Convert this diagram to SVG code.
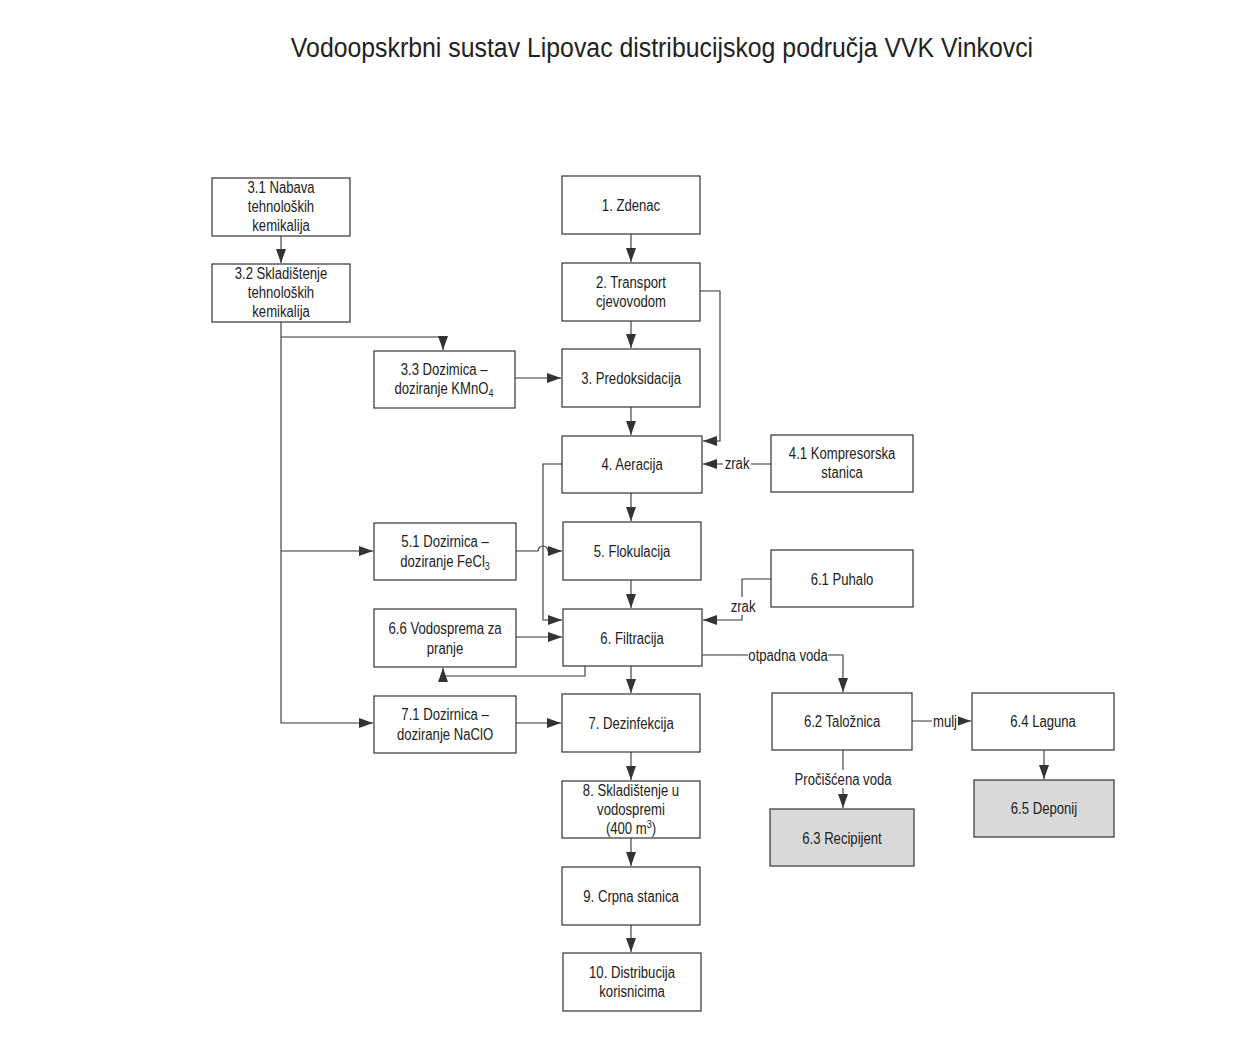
<svg xmlns="http://www.w3.org/2000/svg" width="1233" height="1045" viewBox="0 0 1233 1045">
<style>
.b{fill:#fff;stroke:#333;stroke-width:1.2}
.g{fill:#d9d9d9;stroke:#333;stroke-width:1.2}
text{font-family:"Liberation Sans",Arial,sans-serif;font-size:16px;fill:#222;text-anchor:middle;transform-box:fill-box;transform-origin:center;transform:scaleX(0.82)}
.t{font-size:27px;transform:scaleX(0.92)}
.c{fill:none;stroke:#333;stroke-width:1.1}
.lbl{fill:#fff;stroke:none}
</style>
<defs>
<marker id="a" viewBox="0 0 14 10" refX="14" refY="5" markerWidth="14" markerHeight="10" markerUnits="userSpaceOnUse" orient="auto">
<path d="M0,0 L14,5 L0,10 z" fill="#333"/>
</marker>
</defs>
<rect width="1233" height="1045" fill="#fff"/>
<text class="t" x="662" y="57">Vodoopskrbni sustav Lipovac distribucijskog područja VVK Vinkovci</text>

<g id="connectors">
<path class="c" d="M281,236 V263" marker-end="url(#a)"/>
<path class="c" d="M281,322 V723 H373" marker-end="url(#a)"/>
<path class="c" d="M281,337 H443 V350" marker-end="url(#a)"/>
<path class="c" d="M281,551 H373" marker-end="url(#a)"/>
<path class="c" d="M515,378 H561" marker-end="url(#a)"/>
<path class="c" d="M631,234 V262" marker-end="url(#a)"/>
<path class="c" d="M631,321 V348" marker-end="url(#a)"/>
<path class="c" d="M700,291 H720 V441 H703" marker-end="url(#a)"/>
<path class="c" d="M631,407 V435" marker-end="url(#a)"/>
<path class="c" d="M771,464 H703" marker-end="url(#a)"/>
<rect class="lbl" x="723" y="455" width="28" height="16"/>
<text x="737" y="469">zrak</text>
<path class="c" d="M562,464 H543 V620 H562" marker-end="url(#a)"/>
<path class="c" d="M516,551 H538 A5,5 0 0 1 548,551 H562" marker-end="url(#a)"/>
<path class="c" d="M631,493 V521" marker-end="url(#a)"/>
<path class="c" d="M631,580 V608" marker-end="url(#a)"/>
<path class="c" d="M771,579 H742 V620 H703" marker-end="url(#a)"/>
<rect class="lbl" x="729" y="597" width="28" height="18"/>
<text x="743" y="612">zrak</text>
<path class="c" d="M702,655 H843 V692" marker-end="url(#a)"/>
<rect class="lbl" x="748" y="646" width="80" height="18"/>
<text x="788" y="661">otpadna voda</text>
<path class="c" d="M516,637 H562" marker-end="url(#a)"/>
<path class="c" d="M585,666 V676 H443 V668" marker-end="url(#a)"/>
<path class="c" d="M631,666 V693" marker-end="url(#a)"/>
<path class="c" d="M516,723 H561" marker-end="url(#a)"/>
<path class="c" d="M912,721 H971" marker-end="url(#a)"/>
<rect class="lbl" x="932" y="712" width="26" height="18"/>
<text x="945" y="727">mulj</text>
<path class="c" d="M843,750 V808" marker-end="url(#a)"/>
<rect class="lbl" x="794" y="770" width="98" height="18"/>
<text x="843" y="785">Pročišćena voda</text>
<path class="c" d="M1044,750 V779" marker-end="url(#a)"/>
<path class="c" d="M631,752 V780" marker-end="url(#a)"/>
<path class="c" d="M631,838 V866" marker-end="url(#a)"/>
<path class="c" d="M631,925 V952" marker-end="url(#a)"/>
</g>

<g id="n31"><rect class="b" x="212" y="178" width="138" height="58"/><text x="281" y="193">3.1 Nabava</text><text x="281" y="212">tehnoloških</text><text x="281" y="231">kemikalija</text></g>
<g id="n32"><rect class="b" x="212" y="264" width="138" height="58"/><text x="281" y="279">3.2 Skladištenje</text><text x="281" y="298">tehnoloških</text><text x="281" y="317">kemikalija</text></g>
<g id="n1"><rect class="b" x="562" y="176" width="138" height="58"/><text x="631" y="211">1. Zdenac</text></g>
<g id="n2"><rect class="b" x="562" y="263" width="138" height="58"/><text x="631" y="288">2. Transport</text><text x="631" y="307">cjevovodom</text></g>
<g id="n33"><rect class="b" x="374" y="351" width="141" height="57"/><text x="444" y="375">3.3 Dozimica –</text><text x="444" y="394">doziranje KMnO<tspan font-size="11" dy="3">4</tspan></text></g>
<g id="n3"><rect class="b" x="562" y="349" width="138" height="58"/><text x="631" y="384">3. Predoksidacija</text></g>
<g id="n4"><rect class="b" x="562" y="436" width="140" height="57"/><text x="632" y="470">4. Aeracija</text></g>
<g id="n41"><rect class="b" x="771" y="435" width="142" height="57"/><text x="842" y="459">4.1 Kompresorska</text><text x="842" y="478">stanica</text></g>
<g id="n51"><rect class="b" x="374" y="523" width="142" height="57"/><text x="445" y="547">5.1 Dozirnica –</text><text x="445" y="567">doziranje FeCl<tspan font-size="11" dy="3">3</tspan></text></g>
<g id="n5"><rect class="b" x="563" y="522" width="138" height="58"/><text x="632" y="557">5. Flokulacija</text></g>
<g id="n61"><rect class="b" x="771" y="550" width="142" height="57"/><text x="842" y="585">6.1 Puhalo</text></g>
<g id="n66"><rect class="b" x="374" y="609" width="142" height="58"/><text x="445" y="634">6.6 Vodosprema za</text><text x="445" y="654">pranje</text></g>
<g id="n6"><rect class="b" x="563" y="609" width="139" height="57"/><text x="632" y="644">6. Filtracija</text></g>
<g id="n71"><rect class="b" x="374" y="696" width="142" height="57"/><text x="445" y="720">7.1 Dozirnica –</text><text x="445" y="740">doziranje NaClO</text></g>
<g id="n7"><rect class="b" x="562" y="694" width="138" height="58"/><text x="631" y="729">7. Dezinfekcija</text></g>
<g id="n62"><rect class="b" x="772" y="693" width="140" height="57"/><text x="842" y="727">6.2 Taložnica</text></g>
<g id="n64"><rect class="b" x="972" y="693" width="142" height="57"/><text x="1043" y="727">6.4 Laguna</text></g>
<g id="n8"><rect class="b" x="562" y="781" width="138" height="57"/><text x="631" y="796">8. Skladištenje u</text><text x="631" y="815">vodospremi</text><text x="631" y="834">(400 m<tspan font-size="11" dy="-6">3</tspan><tspan dy="6">)</tspan></text></g>
<g id="n63"><rect class="g" x="770" y="809" width="144" height="57"/><text x="842" y="844">6.3 Recipijent</text></g>
<g id="n65"><rect class="g" x="974" y="780" width="140" height="57"/><text x="1044" y="814">6.5 Deponij</text></g>
<g id="n9"><rect class="b" x="562" y="867" width="138" height="58"/><text x="631" y="902">9. Crpna stanica</text></g>
<g id="n10"><rect class="b" x="563" y="953" width="138" height="58"/><text x="632" y="978">10. Distribucija</text><text x="632" y="997">korisnicima</text></g>
</svg>
